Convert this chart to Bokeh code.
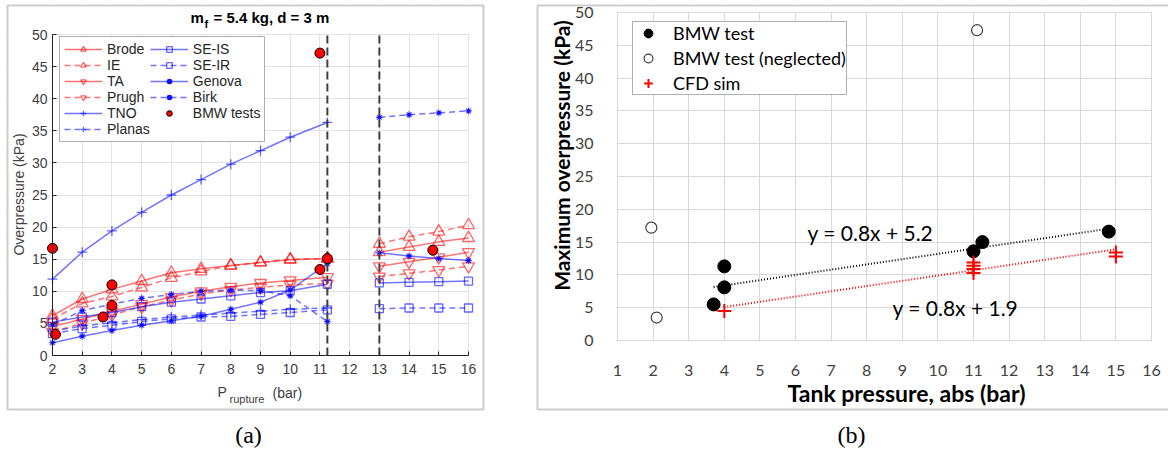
import math
from bokeh.plotting import figure
from bokeh.layouts import row
from bokeh.models import (Range1d, Label, Legend, LegendItem, BoxAnnotation, FixedTicker)
from bokeh.embed import file_html
from bokeh.resources import INLINE

# ---------------- Panel (a) data ----------------
p_low = [2, 3, 4, 5, 6, 7, 8, 9, 10, 11.25]
p_high = [13, 14, 15, 16]
brode_low = [6.2, 8.8, 10.3, 11.6, 12.9, 13.5, 14.0, 14.5, 14.9, 15.1]
brode_high = [16.1, 16.9, 17.7, 18.3]
ie_low = [5.7, 8.1, 9.2, 10.6, 12.1, 13.1, 14.0, 14.5, 15.0, 15.1]
ie_high = [17.4, 18.5, 19.3, 20.3]
ta_low = [4.5, 5.7, 6.9, 8.0, 9.1, 10.0, 10.7, 11.3, 11.7, 12.2]
ta_high = [13.9, 14.6, 15.3, 16.1]
prugh_low = [3.7, 5.0, 6.3, 7.6, 8.6, 9.6, 10.2, 10.6, 11.0, 11.2]
prugh_high = [12.3, 12.8, 13.3, 13.9]
tno_low = [11.9, 16.1, 19.4, 22.3, 25.0, 27.4, 29.8, 31.9, 34.0, 36.3]
planas_low = [3.8, 4.6, 5.1, 5.6, 6.0, 6.3, 6.6, 6.9, 7.2, 7.4]
seis_low = [5.2, 6.0, 6.7, 7.6, 8.3, 8.8, 9.3, 9.8, 10.1, 11.1]
seis_high = [11.3, 11.4, 11.5, 11.6]
seir_low = [3.4, 4.2, 4.7, 5.3, 5.7, 6.0, 6.1, 6.4, 6.7, 7.1]
seir_high = [7.3, 7.4, 7.4, 7.4]
genova_low = [2.0, 3.0, 3.9, 4.7, 5.4, 6.1, 7.2, 8.3, 10.2, 14.3]
genova_high = [16.0, 15.5, 15.1, 14.8]
birk_low = [4.8, 7.0, 8.0, 8.9, 9.5, 10.0, 10.2, 10.1, 9.3, 5.3]
birk_high = [37.1, 37.5, 37.8, 38.1]
bmw_a_x = [2.0, 2.1, 3.7, 4.0, 4.0, 11.0, 11.25, 11.0, 14.8]
bmw_a_y = [16.7, 3.3, 6.0, 7.8, 11.0, 13.4, 15.1, 47.1, 16.4]
rupture_breaks = [11.25, 13]
a_xticks = list(range(2, 17))
a_yticks = list(range(0, 51, 5))

# ---------------- Panel (b) data ----------------
bmw_x = [3.7, 4.0, 4.0, 11.0, 11.25, 14.8]
bmw_y = [5.5, 8.1, 11.3, 13.6, 15.0, 16.6]
neg_x = [1.95, 2.1, 11.1]
neg_y = [17.2, 3.5, 47.3]
cfd_x = [4, 11, 11, 11, 11, 15, 15]
cfd_y = [4.5, 11.9, 11.4, 10.9, 10.3, 13.4, 12.8]
bmw_fit = (0.8, 5.2)
cfd_fit = (0.8, 1.9)
b_xticks = list(range(1, 17))
b_yticks = list(range(0, 51, 5))


def make_fig(W, H, x0, x1, y0, y1, px0, px1, py0, py1):
    """Figure whose frame is the whole canvas; data box [x0,x1]x[y0,y1] sits at pixels."""
    sx = (px1 - px0) / (x1 - x0)
    sy = (py1 - py0) / (y1 - y0)
    xr = Range1d(x0 - px0 / sx, x1 + (W - px1) / sx)
    yr = Range1d(y0 - (H - py1) / sy, y1 + py0 / sy)
    f = figure(width=W, height=H, x_range=xr, y_range=yr, output_backend="svg",
               toolbar_location=None, min_border=0, min_border_left=0, min_border_right=0,
               min_border_top=0, min_border_bottom=0)
    f.outline_line_color = None
    f.background_fill_color = "white"
    f.border_fill_color = "white"
    f.xaxis.fixed_location = y0
    f.yaxis.fixed_location = x0

    def to_data(px, py):
        return x0 + (px - px0) / sx, y0 + (py1 - py) / sy
    # white covers so grid lines stay inside the data box
    e = 0.02
    for kw in ({"bottom": y1 + 0.1}, {"top": y0 - 0.1}, {"right": x0 - e}, {"left": x1 + e}):
        f.add_layout(BoxAnnotation(level="underlay", fill_color="white", fill_alpha=1,
                                   line_color=None, **kw))
    return f, to_data


def add_label(f, conv, px, py, text, size, style="normal", align="left", baseline="middle",
              angle=0, color="#000000", font="Liberation Sans"):
    x, y = conv(px, py)
    f.add_layout(Label(x=x, y=y, text=text, text_font=font, text_font_size=size,
                       text_font_style=style, text_align=align, text_baseline=baseline,
                       angle=angle, text_color=color))


def add_box(f, conv, pl, pt, pr, pb):
    l, t = conv(pl, pt)
    r, b = conv(pr, pb)
    f.add_layout(BoxAnnotation(left=l, right=r, top=t, bottom=b, fill_alpha=0,
                               line_color="#5a5a5a", line_width=2))


# ---------------- Figure (a) ----------------
fa, ca = make_fig(520, 450, 2, 16, 0, 50, 52, 468, 34, 355)

for ax in (fa.xaxis[0], fa.yaxis[0]):
    ax.axis_line_color = "#262626"
    ax.major_tick_line_color = "#262626"
    ax.major_tick_in = 4
    ax.major_tick_out = 0
    ax.minor_tick_line_color = None
    ax.major_label_text_font = "Liberation Sans"
    ax.major_label_text_font_size = "14px"
    ax.major_label_text_color = "#404040"
fa.xaxis.ticker = FixedTicker(ticks=a_xticks)
fa.yaxis.ticker = FixedTicker(ticks=a_yticks)
fa.xaxis.bounds = (a_xticks[0], a_xticks[-1])
fa.yaxis.bounds = (a_yticks[0], a_yticks[-1])
fa.xaxis.major_label_standoff = 8
fa.yaxis.major_label_standoff = 5
fa.xgrid.ticker = FixedTicker(ticks=a_xticks)
fa.ygrid.ticker = FixedTicker(ticks=a_yticks)
fa.xgrid.bounds = (a_xticks[0] - 1, a_xticks[-1] + 1)
fa.ygrid.bounds = (a_yticks[0] - 5, a_yticks[-1] + 5)
fa.grid.grid_line_color = "#e3e3e3"

RED = "#ff0000"
BLUE = "#0000ff"
DASH = "6 4"


def join(low, high):
    if high is None:
        return list(p_low), list(low)
    return list(p_low) + [float("nan")] + list(p_high), list(low) + [float("nan")] + list(high)


series = [
    ("Brode", brode_low, brode_high, RED, "solid", "triangle", 12),
    ("IE", ie_low, ie_high, RED, DASH, "triangle", 12),
    ("TA", ta_low, ta_high, RED, "solid", "inverted_triangle", 12),
    ("Prugh", prugh_low, prugh_high, RED, DASH, "inverted_triangle", 12),
    ("TNO", tno_low, None, BLUE, "solid", "cross", 10),
    ("Planas", planas_low, None, BLUE, DASH, "cross", 10),
    ("SE-IS", seis_low, seis_high, BLUE, "solid", "square", 8),
    ("SE-IR", seir_low, seir_high, BLUE, DASH, "square", 8),
    ("Genova", genova_low, genova_high, BLUE, "solid", "asterisk", 7),
    ("Birk", birk_low, birk_high, BLUE, DASH, "asterisk", 7),
]
items = {}
for name, lo, hi, col, dash, mk, sz in series:
    xs, ys = join(lo, hi)
    lr = fa.line(xs, ys, line_color=col, line_alpha=0.55, line_width=1.5, line_dash=dash)
    sr = fa.scatter(xs, ys, marker=mk, size=sz, line_color=col, line_alpha=0.6,
                    fill_color=None, line_width=1.3)
    extra = []
    if mk == "asterisk":
        extra.append(fa.scatter(xs, ys, marker="circle", size=4, fill_color=col,
                                line_color=None, fill_alpha=0.8))
    items[name] = [lr, sr] + extra

fa.segment(x0=rupture_breaks, y0=a_yticks[0], x1=rupture_breaks, y1=a_yticks[-1],
           line_color="#404040", line_width=2, line_dash="8 4")

bmw_r = fa.scatter(bmw_a_x, bmw_a_y, marker="circle", size=10, fill_color="#ff0000",
                   line_color="#000000", line_width=1)
items["BMW tests"] = [bmw_r]

order = ["Brode", "IE", "TA", "Prugh", "TNO", "Planas",
         "SE-IS", "SE-IR", "Genova", "Birk", "BMW tests"]
leg_a = Legend(items=[LegendItem(label=n, renderers=items[n]) for n in order],
               location=(59, 450 - 142), nrows=6, margin=0, padding=4, spacing=0,
               glyph_width=38, glyph_height=14, label_height=14, label_standoff=5,
               label_text_font="Liberation Sans", label_text_font_size="14px",
               label_text_color="#262626", border_line_color="#606060",
               border_line_width=1, background_fill_alpha=1.0)
fa.add_layout(leg_a)

# title m_f = 5.4 kg, d = 3 m
add_label(fa, ca, 190, 17, "m", "15px", style="bold")
add_label(fa, ca, 204, 23, "f", "11px", style="bold")
add_label(fa, ca, 213, 17, "= 5.4 kg, d = 3 m", "15px", style="bold")
# x label P_rupture (bar)
add_label(fa, ca, 217, 391, "P", "14px", color="#404040")
add_label(fa, ca, 229, 398, "rupture", "11px", color="#404040")
add_label(fa, ca, 272, 392, "(bar)", "14px", color="#404040")
# y label
add_label(fa, ca, 18, 194, "Overpressure (kPa)", "14px", align="center",
          angle=math.pi / 2, color="#404040")
# caption
add_label(fa, ca, 248, 434, "(a)", "24px", align="center", font="Liberation Serif")
add_box(fa, ca, 7, 5, 483, 409)

# ---------------- Figure (b) ----------------
fb, cb = make_fig(648, 450, 1, 16, 0, 50, 97, 631, 12, 340)

for ax in (fb.xaxis[0], fb.yaxis[0]):
    ax.axis_line_color = None
    ax.major_tick_line_color = None
    ax.minor_tick_line_color = None
    ax.major_label_text_font = "Lato"
    ax.major_label_text_font_size = "16px"
    ax.major_label_text_color = "#404040"
fb.xaxis.ticker = FixedTicker(ticks=b_xticks)
fb.yaxis.ticker = FixedTicker(ticks=b_yticks)
fb.xaxis.major_label_standoff = 18
fb.yaxis.major_label_standoff = 18
fb.xgrid.ticker = FixedTicker(ticks=b_xticks)
fb.ygrid.ticker = FixedTicker(ticks=b_yticks)
fb.xgrid.bounds = (b_xticks[0] - 1, b_xticks[-1] + 1)
fb.ygrid.bounds = (b_yticks[0] - 5, b_yticks[-1] + 5)
fb.grid.grid_line_color = "#d9d9d9"

bx = [min(bmw_x), max(bmw_x)]
fb.line(bx, [bmw_fit[0] * v + bmw_fit[1] for v in bx], line_color="#000000",
        line_width=2, line_dash="1 2")
cx = [min(cfd_x), max(cfd_x)]
fb.line(cx, [cfd_fit[0] * v + cfd_fit[1] for v in cx], line_color="#ff0000",
        line_width=2, line_dash="1 2")

r_bmw = fb.scatter(bmw_x, bmw_y, marker="circle", size=13, fill_color="#000000",
                   line_color="#000000")
r_neg = fb.scatter(neg_x, neg_y, marker="circle", size=11, fill_color="white",
                   line_color="#404040", line_width=1.2)
r_cfd = fb.scatter(cfd_x, cfd_y, marker="cross", size=14, line_color="#ff0000", line_width=2)

leg_b = Legend(items=[LegendItem(label="BMW test", renderers=[r_bmw]),
                      LegendItem(label="BMW test (neglected)", renderers=[r_neg]),
                      LegendItem(label="CFD sim", renderers=[r_cfd])],
               location=(632 - 520, 450 - 95), margin=0, padding=0, spacing=3,
               glyph_width=30, glyph_height=22, label_height=22, label_standoff=10,
               label_text_font="Lato", label_text_font_size="18px",
               label_text_color="#000000", border_line_color="#606060",
               border_line_width=1, background_fill_alpha=1.0)
fb.add_layout(leg_b)

eq1 = "y = %.1fx + %.1f" % bmw_fit
eq2 = "y = %.1fx + %.1f" % cfd_fit
add_label(fb, cb, 807 - 520, 232, eq1, "21px", font="Lato")
add_label(fb, cb, 892 - 520, 307, eq2, "21px", font="Lato")
add_label(fb, cb, 561 - 520, 155, "Maximum overpressure (kPa)", "21px", style="bold",
          align="center", angle=math.pi / 2, font="Lato")
add_label(fb, cb, 906 - 520, 392, "Tank pressure, abs (bar)", "23px", style="bold",
          align="center", font="Lato")
add_label(fb, cb, 851 - 520, 434, "(b)", "24px", align="center", font="Liberation Serif")
add_box(fb, cb, 537 - 520, 5, 700, 409)

layout = row(fa, fb)
open("out.html", "w").write(file_html(layout, INLINE))
